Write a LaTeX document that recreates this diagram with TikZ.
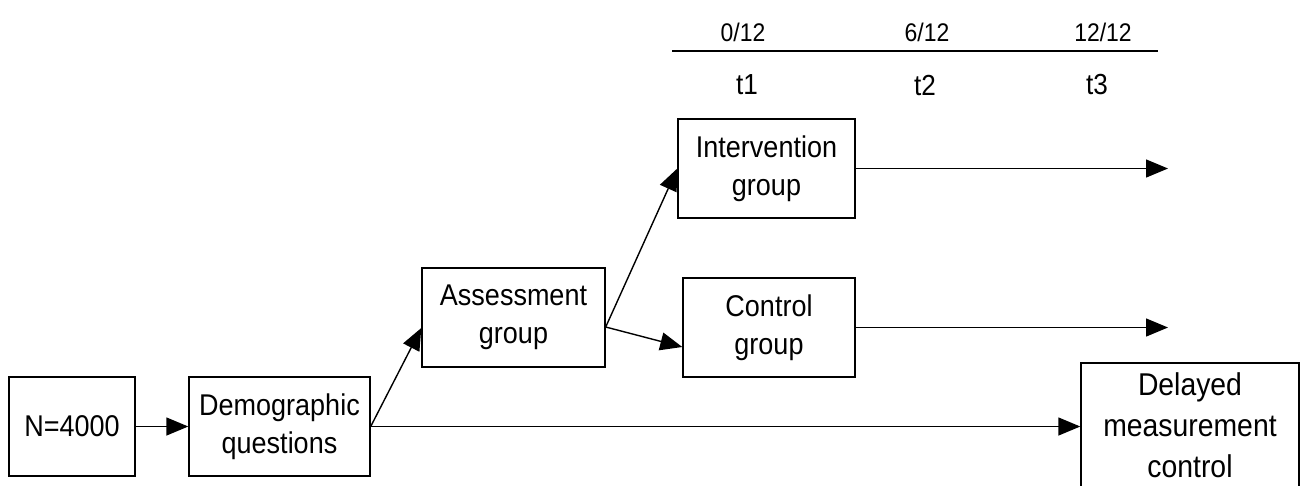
\documentclass[tikz,border=0pt]{standalone}
\usepackage{fontspec}
\setmainfont{Liberation Sans}[FakeStretch=0.9]
\usetikzlibrary{arrows.meta}
\begin{document}
\begin{tikzpicture}[x=1pt,y=-1pt,
  box/.style={draw,line width=1.4pt,minimum height=99pt,inner sep=0pt,align=center,
    font=\fontsize{30}{38}\selectfont},
  lbl/.style={inner sep=0pt,font=\fontsize{25.5}{30}\selectfont},
  tlbl/.style={inner sep=0pt,font=\fontsize{29}{34}\selectfont},
  arr/.style={line width=1.4pt,-{Triangle[length=22pt,width=18pt]}}]
\useasboundingbox (0,0) rectangle (1301,485);
\clip (0,0) rectangle (1301,485);
% timeline
\coordinate (tl) at (672,51);
\coordinate (tr) at (1158,51);
\draw[line width=1.4pt] (tl) -- (tr);
\node[lbl] (m0) at (743,32) {0/12};
\node[lbl] (m6) at (927,32) {6/12};
\node[lbl] (m12) at (1103,32) {12/12};
\node[tlbl] (t1) at (747,85) {t1};
\node[tlbl] (t2) at (925,85) {t2};
\node[tlbl] (t3) at (1097,85) {t3};
% boxes
\node[box,minimum width=126pt] (n) at (72,426.5) {N=4000};
\node[box,minimum width=181pt] (demo) at (279.5,426.5) {Demographic\\questions};
\node[box,minimum width=183pt] (assess) at (513.5,317.5) {Assessment\\group};
\node[box,minimum width=177pt] (interv) at (766.5,168.5) {Intervention\\group};
\node[box,minimum width=172pt] (control) at (769,327.5) {Control\\group};
\node[box,minimum width=218pt,minimum height=124pt,font=\fontsize{31.5}{41}\selectfont] (delayed) at (1190,425) {Delayed\\measurement\\control};
\coordinate (ie) at (1168,168.5);
\coordinate (ce) at (1168,327.5);
% arrows
\draw[arr] (n.east) -- (demo.west);
\draw[arr] (demo.east) -- ([yshift=-10.5pt]assess.west);
\draw[arr] (demo.east) -- (demo.east -| delayed.west);
\draw[arr] ([yshift=-9.5pt]assess.east) -- (interv.west);
\draw[arr] ([yshift=-9.5pt]assess.east) -- ([yshift=-19.5pt]control.west);
\draw[arr] (interv.east) -- (ie);
\draw[arr] (control.east) -- (ce);
\end{tikzpicture}
\end{document}
